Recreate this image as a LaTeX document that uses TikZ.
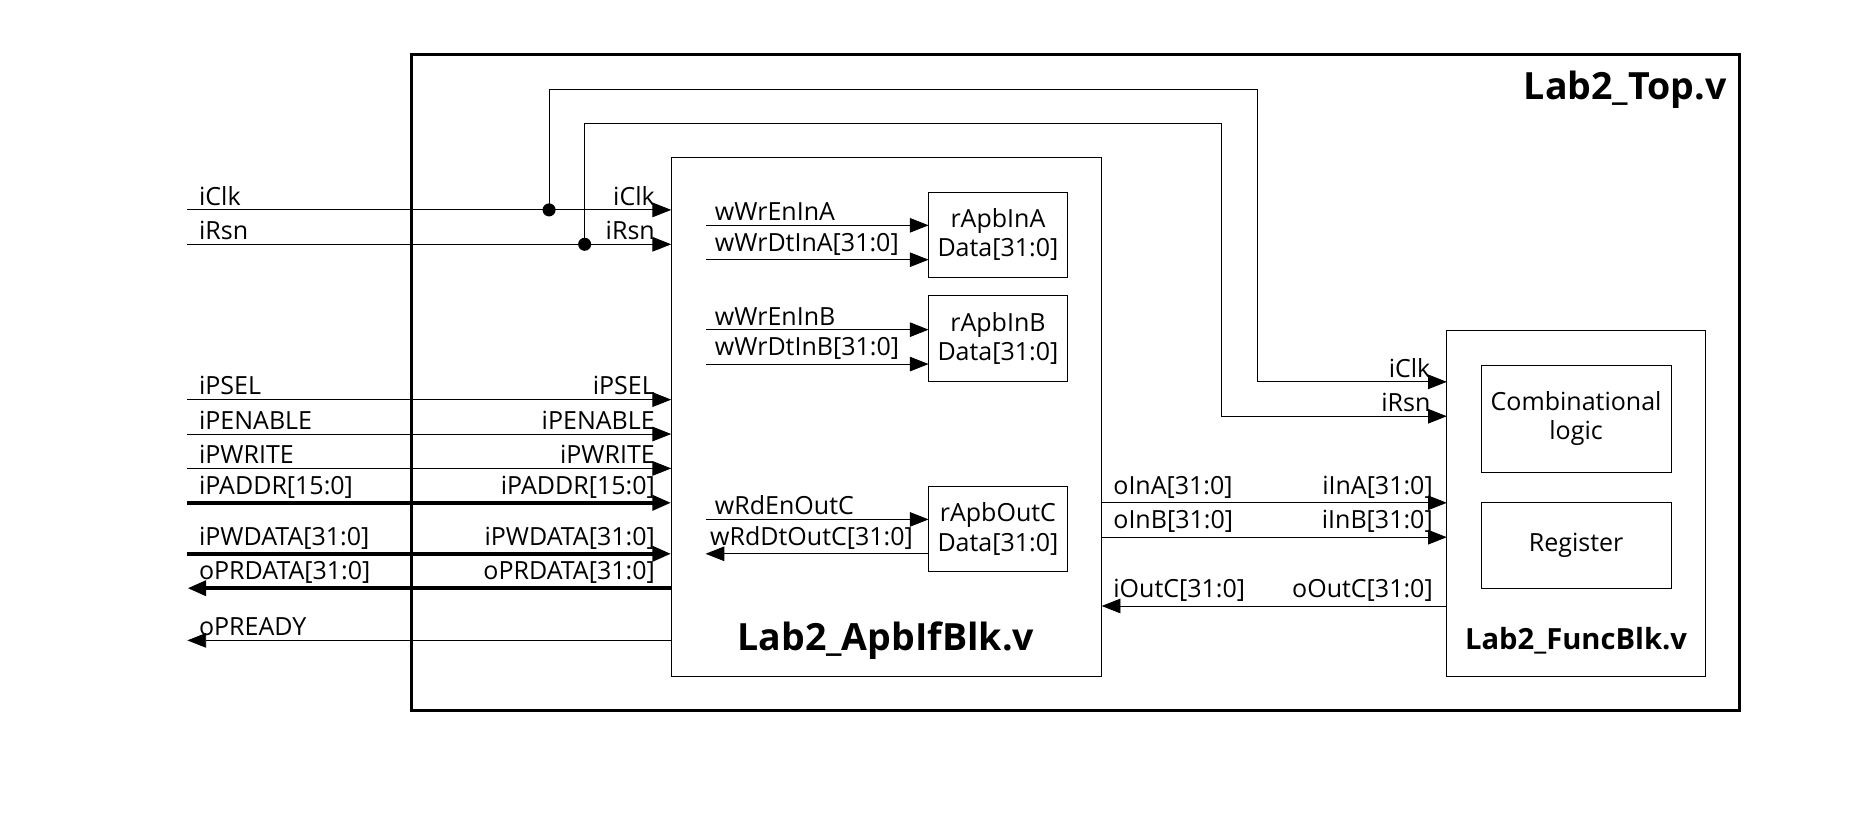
\documentclass[tikz,border=0pt]{standalone}
\usepackage{fontspec}
\setmainfont{Open Sans}
\usetikzlibrary{arrows.meta}

\begin{document}
\begin{tikzpicture}[x     = {(0.02cm,0cm)},
                    y     = {(0cm,-0.02cm)},
                    font  = {\fontsize{12}{14}\selectfont},
                    >     = {Triangle[length=9pt,width=7pt]}]
% styles
\tikzset{blk/.style={draw,thin,inner sep=0pt},
         bus/.style={line width=2.2pt},
         sig/.style={thin},
         lbl/.style={inner sep=2pt,anchor=south west},
         rlbl/.style={inner sep=2pt,anchor=south east}}
\useasboundingbox (0,0) rectangle (1560,688);
% blocks
\draw[line width=1.2pt] (347,46) rectangle (1467,599);
\node[anchor=north east,font=\fontsize{18}{20}\selectfont\bfseries] (top) at (1462,54) {Lab2\_Top.v};
\draw[blk] (566,133) rectangle (929,570);
\node[font=\fontsize{18}{20}\selectfont\bfseries] (apbname) at (747,540) {Lab2\_ApbIfBlk.v};
\draw[blk] (1220,279) rectangle (1438,570);
\node[font=\fontsize{14}{16}\selectfont\bfseries] (funcname) at (1329,540) {Lab2\_FuncBlk.v};
\node[blk,minimum width=3.2cm,minimum height=1.8cm,align=center] (comb) at (1329,353) {Combinational\\logic};
\node[blk,minimum width=3.2cm,minimum height=1.44cm] (reg) at (1329,460) {Register};
\node[blk,minimum width=2.34cm,minimum height=1.44cm,align=center] (ina) at (841.5,198) {rApbInA\\Data[31:0]};
\node[blk,minimum width=2.34cm,minimum height=1.46cm,align=center] (inb) at (841.5,285.5) {rApbInB\\Data[31:0]};
\node[blk,minimum width=2.34cm,minimum height=1.44cm,align=center] (outc) at (841.5,446) {rApbOutC\\Data[31:0]};
% clock and reset
\foreach \y/\t in {177/iClk,206/iRsn}{
  \draw[sig,->] (158,\y) -- (566,\y);
  \node[lbl] at (164,\y) {\t};
  \node[rlbl] at (556,\y) {\t};
}
\fill (463,177) circle (5.5) (493,206) circle (5.5);
\draw[sig,->] (463,177) |- (1060,75) |- (1220,322) node[rlbl,pos=1] at (1210,322) {};
\draw[sig,->] (493,206) |- (1030,104) |- (1220,351);
\node[rlbl] at (1210,322) {iClk};
\node[rlbl] at (1210,351) {iRsn};
% apb ports
\foreach \y/\t in {337/iPSEL,366/iPENABLE,395/iPWRITE}{
  \draw[sig,->] (158,\y) -- (566,\y);
  \node[lbl] at (164,\y) {\t};
  \node[rlbl] at (556,\y) {\t};
}
\foreach \y/\t in {424/iPADDR[15:0],467/iPWDATA[31:0]}{
  \draw[bus,->] (158,\y) -- (566,\y);
  \node[lbl] at (164,\y) {\t};
  \node[rlbl] at (556,\y) {\t};
}
\draw[bus,->] (566,496) -- (158,496);
\node[lbl] at (164,496) {oPRDATA[31:0]};
\node[rlbl] at (556,496) {oPRDATA[31:0]};
\draw[sig,->] (566,540) -- (158,540);
\node[lbl] at (164,540) {oPREADY};
% internal registers
\foreach \y/\t in {190/wWrEnInA,219/wWrDtInA[31:0],278/wWrEnInB,307/wWrDtInB[31:0],438/wRdEnOutC}{
  \draw[sig,->] (595,\y) -- (783,\y);
  \node[lbl] at (599,\y) {\t};
}
\draw[sig,->] (outc.west |- 0,467) -- (595,467);
\node[lbl] at (595,467) {wRdDtOutC[31:0]};
% function block ports
\draw[sig,->] (929,424) -- (1220,424);
\draw[sig,->] (929,453) -- (1220,453);
\draw[sig,->] (1220,511) -- (929,511);
\node[lbl] at (935,424) {oInA[31:0]};
\node[lbl] at (935,453) {oInB[31:0]};
\node[lbl] at (935,511) {iOutC[31:0]};
\node[rlbl] at (1212,424) {iInA[31:0]};
\node[rlbl] at (1212,453) {iInB[31:0]};
\node[rlbl] at (1212,511) {oOutC[31:0]};
\end{tikzpicture}
\end{document}
